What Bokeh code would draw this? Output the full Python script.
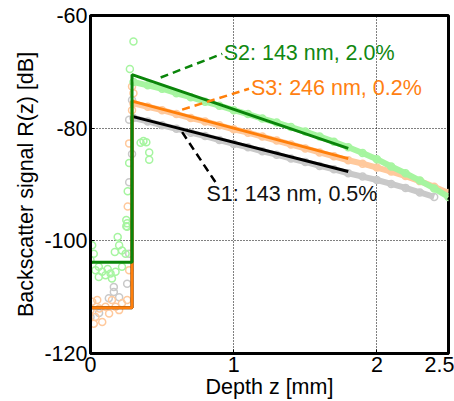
from bokeh.plotting import figure
from bokeh.models import Range1d, FixedTicker, ColumnDataSource
from bokeh.core.properties import value
from bokeh.embed import file_html
from bokeh.resources import INLINE

# ---------------- data ----------------
x_ticks = [0, 1, 2, 2.5]
x_tick_labels = ["0", "1", "2", "2.5"]
y_ticks = [-120, -100, -80, -60]
y_tick_labels = ["-120", "-100", "-80", "-60"]

# dense measured bands (z in mm, dB)
band_x = [0.3, 0.4, 0.5, 0.6, 0.7, 0.8, 0.9, 1.0, 1.1, 1.2, 1.3, 1.4, 1.5,
          1.6, 1.7, 1.8, 1.9, 2.0, 2.1, 2.2, 2.3, 2.4, 2.5]
s2_band = [-71.8, -72.4, -73.0, -73.8, -74.5, -75.3, -76.0, -76.8, -77.5, -78.3, -79.0, -79.8,
           -80.6, -81.5, -82.4, -83.4, -84.4, -85.5, -86.8, -88.0, -89.3, -90.7, -92.2]
s3_band = [-75.6, -76.2, -76.8, -77.5, -78.2, -78.8, -79.5, -80.2, -80.8, -81.5, -82.2, -82.9,
           -83.6, -84.3, -85.0, -85.7, -86.3, -87.0, -87.7, -88.5, -89.4, -90.4, -91.5]
s1_band_x = band_x[:-1]
s1_band = [-78.2, -78.8, -79.5, -80.1, -80.8, -81.4, -82.1, -82.8, -83.4, -84.1, -84.7, -85.4,
           -86.0, -86.7, -87.3, -88.0, -88.6, -89.2, -89.9, -90.6, -91.4, -92.2]

# scattered points near the surface
s2_pts_x = [0.012, 0.023, 0.0, 0.19, 0.2, 0.17, 0.22, 0.245, 0.256, 0.256, 0.058, 0.082, 0.105,
            0.14, 0.175, 0.058, 0.12, 0.22, 0.035, 0.15,
            0.30, 0.275, 0.27, 0.26, 0.35, 0.37, 0.39, 0.41, 0.41, 0.25, 0.25]
s2_pts_y = [-100.8, -102.3, -103.4, -99.3, -100.8, -102.0, -101.7, -102.3, -96.9, -97.5, -104.6,
            -105.5, -106.1, -105.8, -105.5, -106.4, -105.0, -104.6, -105.2, -106.7,
            -64.6, -69.5, -86.2, -91.2, -82.6, -82.3, -82.5, -84.3, -85.6, -96.3, -97.4]
s3_pts_x = [0.012, 0.047, 0.0, 0.035, 0.082, 0.13, 0.175, 0.22, 0.256, 0.27, 0.105, 0.2, 0.15,
            0.062, 0.023, 0.29, 0.30, 0.29, 0.27, 0.26]
s3_pts_y = [-110.8, -110.5, -112.3, -113.5, -114.4, -112.9, -111.7, -111.1, -110.5, -105.2,
            -111.7, -112.3, -110.5, -112.0, -114.7, -72.6, -73.8, -76.8, -82.7, -93.9]
s1_pts_x = [0.163, 0.163, 0.256, 0.0, 0.128, 0.06, 0.2, 0.27, 0.29, 0.27, 0.29, 0.27]
s1_pts_y = [-108.2, -109.1, -107.6, -113.5, -110.2, -112.8, -110.0, -102.3, -75.0, -78.5,
            -84.6, -89.6]

# model fits (surface step + linear decay)
fit_x = [0.0, 0.29, 0.29, 1.8]
s2_fit = [-103.8, -103.8, -70.5, -83.6]
s3_fit = [-111.9, -111.9, -75.2, -85.4]
s1_fit = [-111.9, -111.9, -77.9, -87.7]

# annotation leaders and labels
s2_lead_x, s2_lead_y = [0.49, 0.92], [-71.0, -66.8]
s3_lead_x, s3_lead_y = [0.64, 1.107], [-76.7, -73.0]
s1_lead_x, s1_lead_y = [0.64, 0.886], [-80.7, -90.1]
label_x = [0.93, 1.12, 0.81]
label_y = [-66.6, -72.9, -91.6]
label_txt = ["S2: 143 nm, 2.0%", "S3: 246 nm, 0.2%", "S1: 143 nm, 0.5%"]
label_col = ["#118811", "#ff8011", "#111111"]

# ---------------- colours ----------------
C_S2, C_S2L = "#0a850a", "#a6f5a0"
C_S3, C_S3L = "#ff7f0a", "#ffc99c"
C_S1, C_S1L = "#000000", "#c9c9c9"
FONT = "Liberation Sans"
FS = "21.5px"

p = figure(width=454, height=401, x_range=Range1d(0, 2.5), y_range=Range1d(-120, -60),
           output_backend="svg", toolbar_location=None,
           min_border_left=90, min_border_top=15, min_border_right=6, min_border_bottom=48)
p.background_fill_color = "white"
p.border_fill_color = "white"
p.outline_line_color = "black"
p.outline_line_width = 3

for ax in (p.xaxis[0], p.yaxis[0]):
    ax.axis_line_width = 3
    ax.major_tick_in = 4
    ax.major_tick_out = 0
    ax.minor_tick_in = 0
    ax.minor_tick_out = 0
    ax.major_tick_line_width = 1
    ax.major_label_text_font = FONT
    ax.major_label_text_font_size = FS
    ax.major_label_text_color = "black"
    ax.axis_label_text_font = FONT
    ax.axis_label_text_font_size = FS
    ax.axis_label_text_font_style = "normal"
    ax.axis_label_text_color = "black"

p.xaxis.ticker = FixedTicker(ticks=x_ticks)
p.yaxis.ticker = FixedTicker(ticks=y_ticks)
p.xaxis.major_label_overrides = dict(zip(x_ticks, x_tick_labels))
p.yaxis.major_label_overrides = dict(zip(y_ticks, y_tick_labels))
p.xaxis.axis_label = "Depth z [mm]"
p.yaxis.axis_label = "Backscatter signal R(z) [dB]"
p.xaxis.major_label_standoff = 3
p.xaxis.axis_label_standoff = 0
p.yaxis.major_label_standoff = 3
p.yaxis.axis_label_standoff = 3

for g in (p.xgrid[0], p.ygrid[0]):
    g.grid_line_color = "black"
    g.grid_line_dash = "1 2"
    g.grid_line_width = 1

# bands (dense data)
p.line(s1_band_x, s1_band, color=C_S1L, line_width=6)
p.scatter(s1_band_x, s1_band, marker="circle", size=7, fill_color=None, line_color=C_S1L, line_width=1.5)
p.scatter(s1_pts_x, s1_pts_y, marker="circle", size=7, fill_color=None, line_color=C_S1L, line_width=1.5)
p.line(band_x, s3_band, color=C_S3L, line_width=6)
p.scatter(band_x, s3_band, marker="circle", size=7, fill_color=None, line_color=C_S3L, line_width=1.5)
p.scatter(s3_pts_x, s3_pts_y, marker="circle", size=7, fill_color=None, line_color=C_S3L, line_width=1.5)
p.line(band_x, s2_band, color=C_S2L, line_width=6)
p.scatter(band_x, s2_band, marker="circle", size=7, fill_color=None, line_color=C_S2L, line_width=1.5)
p.scatter(s2_pts_x, s2_pts_y, marker="circle", size=7, fill_color=None, line_color=C_S2L, line_width=1.5)

# fits
p.line(fit_x, s1_fit, color=C_S1, line_width=3)
p.line(fit_x, s3_fit, color=C_S3, line_width=3)
p.line(fit_x, s2_fit, color=C_S2, line_width=3)

# leaders
p.line(s2_lead_x, s2_lead_y, color=C_S2, line_width=2.5, line_dash="8 5")
p.line(s3_lead_x, s3_lead_y, color=C_S3, line_width=2.5, line_dash="8 5")
p.line(s1_lead_x, s1_lead_y, color=C_S1, line_width=2.5, line_dash="8 5")

src = ColumnDataSource(dict(x=label_x, y=label_y, t=label_txt, c=label_col))
p.text(x="x", y="y", text="t", text_color="c", source=src, text_font=value(FONT),
       text_font_size=FS, text_baseline="middle", text_align="left")

open("out.html", "w").write(file_html(p, INLINE))
